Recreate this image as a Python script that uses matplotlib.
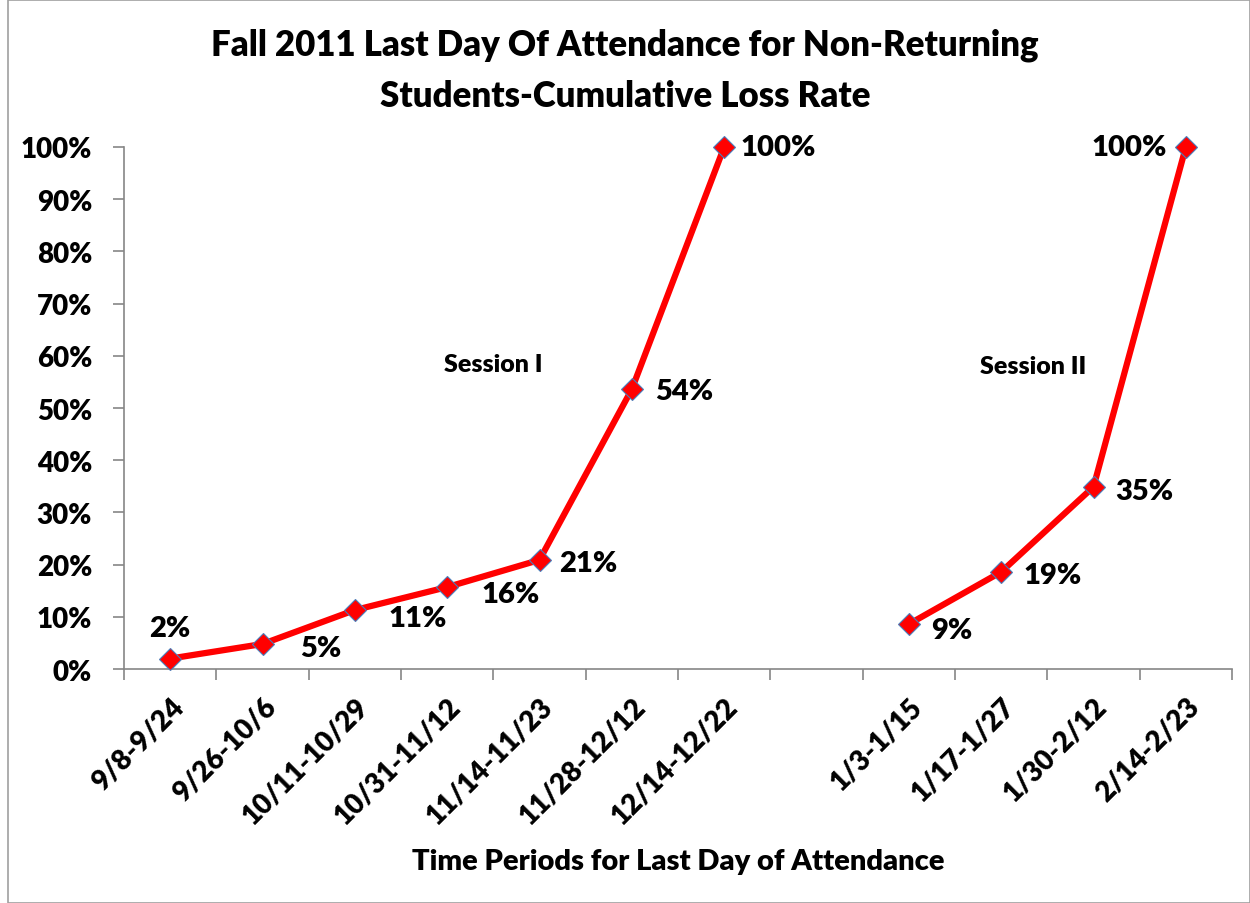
import numpy as np
import matplotlib.pyplot as plt
from matplotlib.patches import Rectangle
from matplotlib.ticker import PercentFormatter

periods = ["9/8-9/24", "9/26-10/6", "10/11-10/29", "10/31-11/12", "11/14-11/23",
           "11/28-12/12", "12/14-12/22", "", "1/3-1/15", "1/17-1/27",
           "1/30-2/12", "2/14-2/23"]
loss_rate = [0.020, 0.048, 0.113, 0.157, 0.209, 0.536, 1.0, np.nan,
             0.086, 0.186, 0.349, 1.0]

# label offsets in points (dx, dy, ha)
label_offsets = [(0, 22, "center"), (27, -3, "left"), (24, -6, "left"),
                 (25, -5, "left"), (14, -2, "left"), (17, -1, "left"),
                 (12, 0, "left"), None, (16, -4, "left"), (16, -2, "left"),
                 (16, -3, "left"), (-14, 0, "right")]

plt.rcParams["font.family"] = ["Lato", "DejaVu Sans"]
W = "heavy"

fig = plt.figure(figsize=(12.5, 9.04), dpi=100)
fig.patches.append(Rectangle((0.006, 0.0), 0.994, 0.999, transform=fig.transFigure,
                             fill=False, edgecolor="#a0a0a0", linewidth=1.2))
ax = fig.add_axes([0.0992, 0.2588, 0.8864, 0.5775])

x = np.arange(len(periods))
ax.plot(x, loss_rate, color="#ff0000", linewidth=4.5, marker="D", markersize=11,
        markerfacecolor="#ff0000", markeredgecolor="#4a7ebb", markeredgewidth=0.8,
        zorder=3, clip_on=False)

for xi, v, off in zip(x, loss_rate, label_offsets):
    if off is None:
        continue
    dx, dy, ha = off
    ax.annotate(f"{v:.0%}", (xi, v), xytext=(dx, dy), textcoords="offset points",
                ha=ha, va="center", fontsize=21, fontweight=W)

ax.text(3.5, 0.585, "Session I", ha="center", va="center", fontsize=18, fontweight=W)
ax.text(9.35, 0.58, "Session II", ha="center", va="center", fontsize=18, fontweight=W)

ax.set_xlim(-0.5, len(periods) - 0.5)
ax.set_ylim(0, 1.0)
ax.set_yticks(np.arange(0, 1.01, 0.1))
ax.yaxis.set_major_formatter(PercentFormatter(1.0, decimals=0))
ax.tick_params(axis="y", labelsize=20, length=8, color="#868686", width=1.2, pad=15)

ax.set_xticks(x)
ax.set_xticklabels(periods, rotation=45, ha="right", rotation_mode="anchor", fontsize=20)
ax.set_xticks(np.arange(-0.5, len(periods)), minor=True)
ax.tick_params(axis="x", which="major", length=0, pad=17)
ax.tick_params(axis="x", which="minor", length=8, color="#868686", width=1.2)
for lbl in ax.get_xticklabels() + ax.get_yticklabels():
    lbl.set_fontweight(W)

for side in ["top", "right"]:
    ax.spines[side].set_visible(False)
for side in ["left", "bottom"]:
    ax.spines[side].set_color("#868686")
    ax.spines[side].set_linewidth(1.2)

ax.set_xlabel("Time Periods for Last Day of Attendance", fontsize=21, fontweight=W,
              labelpad=14)
fig.suptitle("Fall 2011 Last Day Of Attendance for Non-Returning\nStudents-Cumulative Loss Rate",
             y=0.968, fontsize=25, fontweight=W, linespacing=1.65)

fig.savefig("out.png", dpi=100)
